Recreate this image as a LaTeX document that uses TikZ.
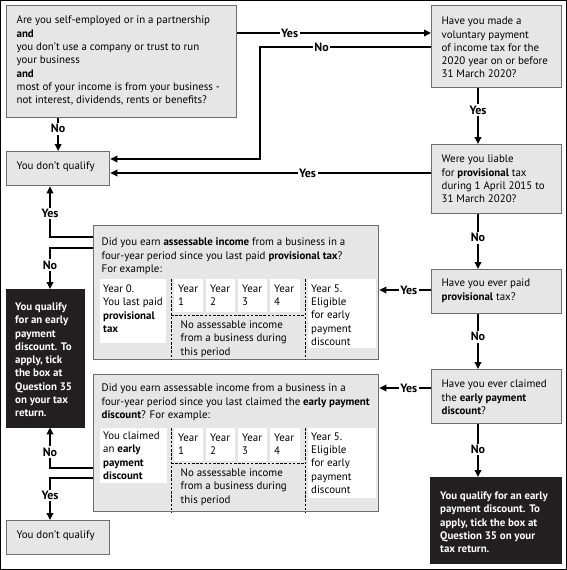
\documentclass[tikz,border=0pt]{standalone}
\usepackage{fontspec}
\setmainfont{PT Sans}
\usetikzlibrary{arrows.meta}
\definecolor{boxfill}{RGB}{230,230,230}
\definecolor{boxline}{RGB}{110,110,110}
\definecolor{darkbox}{RGB}{35,31,32}
\newcommand\fs{\fontsize{10.9}{13.3}\selectfont}
\newcommand\fl{\fontsize{12}{13}\selectfont}
% width, height, top pad, text
\newcommand\tb[4]{\parbox[c][#2][t]{#1}{\vspace*{#3}\raggedright\rightskip=0pt plus 1fil minus 40pt\relax #4}}
\tikzset{
  qbox/.style={draw=boxline, fill=boxfill, line width=1.3pt, inner ysep=0pt, inner xsep=10pt, anchor=north west, font=\fs},
  bbox/.style={fill=darkbox, draw=darkbox, text=white, inner ysep=0pt, inner xsep=10pt, anchor=north west, font=\fs\bfseries},
  cellbox/.style={fill=white, inner ysep=0pt, inner xsep=3pt, anchor=north west, font=\fs},
  plaintext/.style={inner sep=0pt, anchor=north west, font=\fs},
  arr/.style={line width=1.8pt, -{Triangle[length=7pt,width=6.5pt]}},
  lbl/.style={fill=white, inner sep=1.5pt, font=\fl\bfseries},
  dsh/.style={line width=0.8pt, dash pattern=on 2.6pt off 1.6pt},
}
\begin{document}
\begin{tikzpicture}[x=1pt,y=-1pt]
\useasboundingbox (0,0) rectangle (567,570);
\draw[line width=1pt] (0.5,0.5) rectangle (566.5,569.5);

% question boxes
\node[qbox] (A) at (6,5) {\tb{210pt}{112pt}{10.5pt}{Are you self-employed or in a partnership\\
\textbf{and}\\
you don't use a company or trust to run\\
your business\\
\textbf{and}\\
most of your income is from your business -\\
not interest, dividends, rents or benefits?}};

\node[qbox] (B) at (6,151) {\tb{83pt}{34pt}{10.5pt}{You don't qualify}};

\node[qbox] (C) at (431,5) {\tb{110pt}{82pt}{11.5pt}{Have you made a\\
voluntary payment\\
of income tax for the\\
2020 year on or before\\
31 March 2020?}};

\node[qbox] (D) at (431,144) {\tb{110pt}{69pt}{10.5pt}{Were you liable\\
for \textbf{provisional} tax\\
during 1 April 2015 to\\
31 March 2020?}};

\node[qbox] (E) at (431,269) {\tb{110pt}{44pt}{9.5pt}{Have you ever paid\\
\textbf{provisional} tax?}};

\node[qbox] (F) at (431,369) {\tb{110pt}{54pt}{10.5pt}{Have you ever claimed\\
the \textbf{early payment}\\
\textbf{discount}?}};

\node[bbox] (G) at (430,477) {\tb{111pt}{86pt}{14.5pt}{You qualify for an early\\
payment discount. To\\
apply, tick the box at\\
Question 35 on your\\
tax return.}};

\node[bbox, inner xsep=9pt] (H) at (6,289) {\tb{60pt}{138pt}{13.5pt}{You qualify\\
for an early\\
payment\\
discount. To\\
apply, tick\\
the box at\\
Question 35\\
on your tax\\
return.}};

\node[qbox] (K) at (6,520) {\tb{83pt}{34pt}{10.5pt}{You don't qualify}};

% first table box
\node[qbox, inner xsep=8pt] (I) at (93,225) {\tb{269pt}{134pt}{12.5pt}{Did you earn \textbf{assessable income} from a business in a\\
four-year period since you last paid \textbf{provisional tax}?\\
For example:}};
\node[cellbox] (I0) at (100,279) {\tb{60pt}{64pt}{5.5pt}{Year 0.\\ You last paid\\ \textbf{provisional}\\ \textbf{tax}}};
\node[cellbox] (I1) at (174,279) {\tb{23pt}{33pt}{5.5pt}{\hspace*{1pt}Year\\ \hspace*{1pt}1}};
\node[cellbox] (I2) at (206,279) {\tb{23pt}{33pt}{5.5pt}{\hspace*{1pt}Year\\ \hspace*{1pt}2}};
\node[cellbox] (I3) at (238,279) {\tb{23pt}{33pt}{5.5pt}{\hspace*{1pt}Year\\ \hspace*{1pt}3}};
\node[cellbox] (I4) at (270,279) {\tb{24pt}{33pt}{5.5pt}{\hspace*{1pt}Year\\ \hspace*{1pt}4}};
\node[cellbox] (I5) at (308,279) {\tb{62pt}{69pt}{5.5pt}{Year 5.\\ Eligible\\ for early\\ payment\\ discount}};
\node[plaintext] (In) at (180.5,316) {\tb{120pt}{40pt}{4.5pt}{No assessable income\\ from a business during\\ this period}};
\draw[dsh] (171,279) -- (I.south -| 171,0);
\draw[dsh] (171,315) -- (305,315);
\draw[dsh] (305,279) -- (I.south -| 305,0);

% second table box
\node[qbox, inner xsep=8pt] (J) at (93,374) {\tb{269pt}{137pt}{9.5pt}{Did you earn assessable income from a business in a\\
four-year period since you last claimed the \textbf{early payment}\\
\textbf{discount}? For example:}};
\node[cellbox] (J0) at (100,428) {\tb{61pt}{55pt}{3.5pt}{You claimed\\ an \textbf{early}\\ \textbf{payment}\\ \textbf{discount}}};
\node[cellbox] (J1) at (174,428) {\tb{23pt}{33pt}{5.5pt}{\hspace*{1pt}Year\\ \hspace*{1pt}1}};
\node[cellbox] (J2) at (206,428) {\tb{23pt}{33pt}{5.5pt}{\hspace*{1pt}Year\\ \hspace*{1pt}2}};
\node[cellbox] (J3) at (238,428) {\tb{23pt}{33pt}{5.5pt}{\hspace*{1pt}Year\\ \hspace*{1pt}3}};
\node[cellbox] (J4) at (270,428) {\tb{24pt}{33pt}{5.5pt}{\hspace*{1pt}Year\\ \hspace*{1pt}4}};
\node[cellbox] (J5) at (308,428) {\tb{62pt}{70pt}{4.5pt}{Year 5.\\ Eligible\\ for early\\ payment\\ discount}};
\node[plaintext] (Jn) at (180.5,464) {\tb{120pt}{40pt}{4.5pt}{No assessable income\\ from a business during\\ this period}};
\draw[dsh] (171,428) -- (J.south -| 171,0);
\draw[dsh] (171,463) -- (305,463);
\draw[dsh] (305,428) -- (J.south -| 305,0);

% connectors
\draw[arr] (A.east |- 0,33) -- node[lbl, pos=0.27] {Yes} (C.west |- 0,33);
\draw[arr] (C.west |- 0,47) -- node[lbl, pos=0.64] {No} (260,47) |- (B.east |- 0,159);
\draw[arr] (B.north |- A.south) -- node[lbl, pos=0.32] {No} (B.north);
\draw[arr] (C.south -| 478,0) -- node[lbl, pos=0.39] {Yes} (D.north -| 478,0);
\draw[arr] (D.west |- 0,173) -- node[lbl, pos=0.385] {Yes} (B.east |- 0,173);
\draw[arr] (D.south -| 478,0) -- node[lbl, pos=0.43] {No} (E.north -| 478,0);
\draw[arr] (E.west |- 0,290) -- node[lbl, pos=0.43] {Yes} (I.east |- 0,290);
\draw[arr] (E.south -| 478,0) -- node[lbl, pos=0.41] {No} (F.north -| 478,0);
\draw[arr] (F.west |- 0,388) -- node[lbl, pos=0.43] {Yes} (J.east |- 0,388);
\draw[arr] (F.south -| 478,0) -- node[lbl, pos=0.48] {No} (G.north -| 478,0);
\draw[arr] (I.west |- 0,237) -| node[lbl, pos=0.73] {Yes} (B.south -| 50,0);
\draw[arr] (I.west |- 0,248) -| node[lbl, pos=0.707] {No} (H.north -| 50,0);
\draw[arr] (J.west |- 0,468) -| node[lbl, pos=0.695] {No} (H.south -| 50,0);
\draw[arr] (J.west |- 0,478) -| node[lbl, pos=0.71] {Yes} (K.north -| 50,0);
\end{tikzpicture}
\end{document}
